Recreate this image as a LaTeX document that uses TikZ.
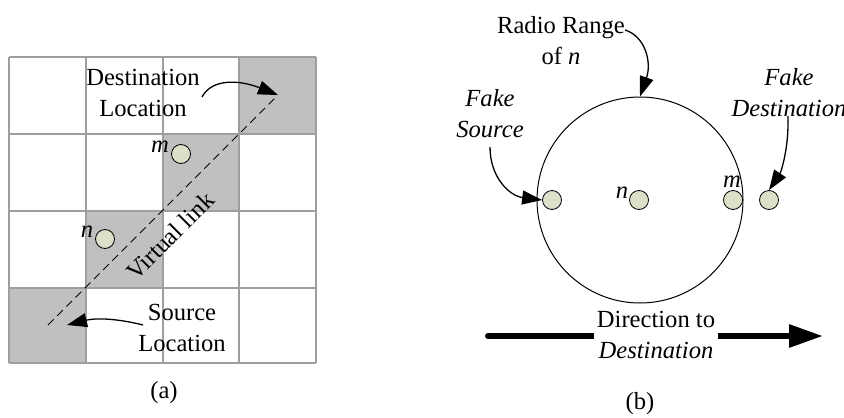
\documentclass[tikz,border=0pt]{standalone}
\usepackage{fontspec}
\setmainfont{Liberation Serif}
\usetikzlibrary{arrows.meta}
\definecolor{cellgray}{RGB}{192,192,192}
\definecolor{gridgray}{RGB}{158,158,158}
\definecolor{nodefill}{RGB}{221,223,201}

\begin{document}
\begin{tikzpicture}[x=0.5pt,y=-0.5pt,
  every node/.style={font=\fontsize{12.3}{15.5}\selectfont},
  sensor/.style={circle,draw,fill=nodefill,inner sep=0pt,minimum size=9.5pt,line width=0.4pt},
  lbl/.style={align=center,inner sep=0pt},
  callout/.style={-{Triangle[length=10pt,width=7pt]},line width=0.65pt}]
\useasboundingbox (0,0) rectangle (844,417);

% (a) cells on the virtual link
\fill[cellgray] (239,57) rectangle (316,134);
\fill[cellgray] (163,134) rectangle (239,211);
\fill[cellgray] (86,211) rectangle (163,288);
\fill[cellgray] (9,288) rectangle (86,363);
\foreach \p in {9,86,163,239,316}
  \draw[gridgray,line width=0.8pt] (\p,57) -- (\p,363);
\foreach \p in {57,134,211,288,363}
  \draw[gridgray,line width=0.8pt] (9,\p) -- (316,\p);

\coordinate (vlS) at (48,325);
\coordinate (vlE) at (276,97);
\draw[dash pattern=on 4pt off 2.5pt,line width=0.5pt] (vlS) -- (vlE);
\node[lbl,rotate=45] (vl) at (170,236) {Virtual link};

\node[sensor] (ma) at (181,154) {};
\node[lbl] (malbl) at (160,147) {\itshape m};
\node[sensor] (na) at (105,239) {};
\node[lbl] (nalbl) at (87,232) {\itshape n};

\node[lbl] (dstloc) at (143,93) {Destination\\Location};
\coordinate (dstA) at (202,97);
\coordinate (dstT) at (278,95);
\draw[callout] (dstA) .. controls (212,78) and (240,80) .. (dstT);

\node[lbl] (srcloc) at (182,328) {Source\\Location};
\coordinate (srcA) at (143,325);
\coordinate (srcT) at (67,325);
\draw[callout] (srcA) .. controls (115,318) and (95,318) .. (srcT);

\node (capa) at (164,393) {(a)};

% (b) radio range of n
\node[circle,draw,inner sep=0pt,minimum size=103pt,line width=0.5pt] (range) at (640,200) {};
\node[sensor] (fs) at (552,200) {};
\node[sensor] (nb) at (639,200) {};
\node[lbl] (nblbl) at (622,193) {\itshape n};
\node[sensor] (mb) at (733,200) {};
\node[lbl] (mblbl) at (732,182) {\itshape m};
\node[sensor] (fd) at (769,200) {};

\node[lbl] (rr) at (561,41) {Radio Range\\of \textit{n}};
\coordinate (rrA) at (625,30);
\draw[callout] (rrA) .. controls (645,36) and (652,62) .. (range.north);

\node[lbl] (fslbl) at (490,114) {\itshape Fake\\\itshape Source};
\coordinate (fsA) at (490,147);
\draw[callout] (fsA) .. controls (490,178) and (510,196) .. (fs.west);

\node[lbl] (fdlbl) at (789,93) {\itshape Fake\\\itshape Destination};
\coordinate (fdA) at (788,116);
\draw[callout] (fdA) .. controls (789,148) and (781,172) .. (fd.north);

\coordinate (dirS) at (488,336);
\coordinate (dirE) at (823,336);
\draw[line width=3pt,line cap=round,-{Triangle[length=17pt,width=11pt]}] (dirS) -- (dirE);
\node[lbl,fill=white,inner sep=1.5pt] (dir) at (656,335) {Direction to\\\textit{Destination}};

\node (capb) at (640,404) {(b)};
\end{tikzpicture}
\end{document}
